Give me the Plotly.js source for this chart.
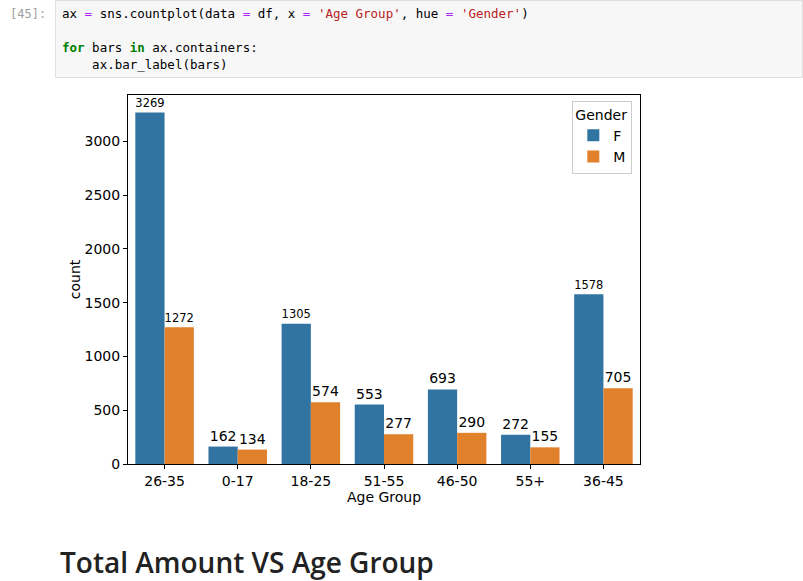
<!DOCTYPE html>
<html>
<head>
<meta charset="utf-8">
<script src="https://cdn.plot.ly/plotly-3.0.1.min.js"></script>
<style>
body { margin: 0; background: #fff; font-family: "DejaVu Sans", sans-serif; width: 803px; height: 581px; overflow: hidden; position: relative; }
.prompt { position: absolute; left: 10px; top: 7px; color: #9e9e9e; font-family: "DejaVu Sans Mono", monospace; font-size: 12px; }
.cell { position: absolute; left: 55px; top: 0; width: 748px; height: 78px; background: #f7f7f7; border: 1px solid #e0e0e0; box-sizing: border-box; font-family: "DejaVu Sans Mono", monospace; font-size: 12.5px; line-height: 17px; padding: 4px 6px; white-space: pre; color: #000; }
.k { color: #008000; font-weight: bold; }
.s { color: #ba2121; }
.o { color: #aa22ff; }
#chart { position: absolute; left: 0; top: 80px; width: 803px; height: 440px; }
h2 { position: absolute; left: 60px; top: 543px; margin: 0; font-family: "Open Sans", sans-serif; font-size: 28px; font-weight: 600; color: #222; }
</style>
</head>
<body>
<div class="prompt">[45]:</div>
<div class="cell">ax <span class="o">=</span> sns.countplot(data <span class="o">=</span> df, x <span class="o">=</span> <span class="s">'Age Group'</span>, hue <span class="o">=</span> <span class="s">'Gender'</span>)

<span class="k">for</span> bars <span class="k">in</span> ax.containers:
    ax.bar_label(bars)</div>
<div id="chart"></div>
<h2>Total Amount VS Age Group</h2>
<script>
var ageGroups = ['26-35', '0-17', '18-25', '51-55', '46-50', '55+', '36-45'];
var femaleCounts = [3269, 162, 1305, 553, 693, 272, 1578];
var maleCounts = [1272, 134, 574, 277, 290, 155, 705];

var font = {family: 'DejaVu Sans', size: 13, color: '#000'};
var labelFont = {family: 'DejaVu Sans', size: 14, color: '#000'};
function series(name, vals, color) {
  return {
    type: 'bar', name: name, x: ageGroups, y: vals,
    marker: {color: color},
    text: vals.map(String), textposition: 'outside', cliponaxis: false,
    textfont: labelFont
  };
}
var data = [series('F', femaleCounts, '#3274a1'), series('M', maleCounts, '#e1812c')];
var layout = {
  width: 803, height: 440,
  margin: {l: 128, r: 163, t: 15, b: 56},
  barmode: 'group', bargap: 0.2, bargroupgap: 0,
  font: font,
  paper_bgcolor: 'rgba(0,0,0,0)', plot_bgcolor: '#fff',
  xaxis: {title: {text: 'Age Group', font: {family: 'DejaVu Sans', size: 14, color: '#000'}, standoff: 4}, showline: true, mirror: true, linecolor: '#000',
          ticks: 'outside', ticklen: 4, tickcolor: '#000', showgrid: false, tickfont: {family: 'DejaVu Sans', size: 14, color: '#000'}},
  yaxis: {title: {text: 'count', font: {family: 'DejaVu Sans', size: 14, color: '#000'}}, range: [0, 3432], dtick: 500, showline: true, mirror: true,
          linecolor: '#000', ticks: 'outside', ticklen: 4, tickcolor: '#000', showgrid: false, zeroline: false, tickfont: {family: 'DejaVu Sans', size: 14, color: '#000'}},
  legend: {title: {text: 'Gender', font: {family: 'DejaVu Sans', size: 14, color: '#000'}}, x: 0.985, y: 0.985, xanchor: 'right', yanchor: 'top',
           bgcolor: '#fff', bordercolor: '#ccc', borderwidth: 1, font: {family: 'DejaVu Sans', size: 14, color: '#000'}},
  showlegend: true
};
Plotly.newPlot('chart', data, layout, {displayModeBar: false, staticPlot: true});
</script>
</body>
</html>
